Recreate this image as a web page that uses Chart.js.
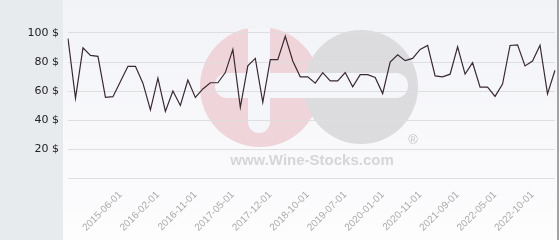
<!DOCTYPE html>
<html>
<head>
<meta charset="utf-8">
<script src="https://cdn.jsdelivr.net/npm/chart.js@4.4.0/dist/chart.umd.min.js"></script>
<style>
    html, body { margin: 0; padding: 0; background: #ffffff; overflow: hidden; }
    #priceChart { display: block; }
</style>
</head>
<body>
<canvas id="priceChart" width="560" height="240"></canvas>
<script>
// Price history (one value per auction date)
const prices = [
    96.2, 55, 89.8, 84.6, 83.9, 55.6, 56.1, 66.6, 77, 77,
    65.4, 47, 68.9, 45.9, 60, 50, 67.5, 55.6, 61.4, 65.7,
    65.7, 72.7, 88.7, 48.8, 77.3, 82.5, 52.2, 81.6, 81.6, 97.7,
    80.7, 69.8, 69.8, 65.4, 72.7, 67, 67, 72.7, 62.9, 71.3,
    71.3, 69.3, 58.2, 80, 85, 80.9, 82.5, 88.7, 91.4, 70.4,
    69.8, 71.6, 90.5, 71.6, 79.5, 62.7, 62.7, 56.3, 64.8, 91.4,
    91.8, 77.3, 80.7, 91.6, 58, 74.3
];

// Dates shown on the x axis; first one sits on point 7, then every 5th point
const tickDates = [
    "2015-06-01", "2016-02-01", "2016-11-01", "2017-05-01",
    "2017-12-01", "2018-10-01", "2019-07-01", "2020-01-01",
    "2020-11-01", "2021-09-01", "2022-05-01", "2022-10-01"
];
const firstTick = 7;
const tickEvery = 5;

// y axis ticks
const yMin = 0;
const yMax = 120;
const yStep = 20;

const labels = prices.map((p, i) => {
    const k = (i - firstTick) / tickEvery;
    return i >= firstTick && Number.isInteger(k) && tickDates[k] ? tickDates[k] : "";
});

// background panels + watermark, drawn before the grid
const backdrop = {
    id: "backdrop",
    beforeDraw(chart) {
        const ctx = chart.ctx;
        const w = chart.width, h = chart.height;
        ctx.save();
        ctx.fillStyle = "#e7ebee";
        ctx.fillRect(0, 0, 63, h);
        const g = ctx.createLinearGradient(0, 0, 0, h);
        g.addColorStop(0, "#f2f3f7");
        g.addColorStop(1, "#fdfdfe");
        ctx.fillStyle = g;
        ctx.fillRect(63, 0, 494, h);
        ctx.fillStyle = "#a3a3a3";
        ctx.fillRect(557, 0, 2, h);
        ctx.fillStyle = "#ffffff";
        ctx.fillRect(559, 0, w - 559, h);

        // watermark logo
        ctx.fillStyle = "#efd4d9";
        ctx.beginPath();
        ctx.arc(260, 87, 60, 0, Math.PI * 2);
        ctx.fill();
        ctx.fillStyle = "#dcdcde";
        ctx.beginPath();
        ctx.arc(361, 87, 57, 0, Math.PI * 2);
        ctx.fill();
        ctx.fillStyle = "#f5f6f9";
        ctx.save();
        ctx.beginPath();
        ctx.arc(260, 87, 60, 0, Math.PI * 2);
        ctx.clip();
        ctx.beginPath();
        ctx.roundRect(248, 10, 22, 123, 11);
        ctx.fill();
        ctx.restore();
        ctx.beginPath();
        ctx.roundRect(215, 73, 193, 25, 12);
        ctx.fill();
        ctx.fillStyle = "#c4c4c6";
        ctx.font = "13px 'Liberation Sans', Arial, sans-serif";
        ctx.textAlign = "center";
        ctx.textBaseline = "middle";
        ctx.fillText("\u00ae", 413, 140);
        ctx.fillStyle = "#d6d6d8";
        ctx.font = "bold 15px 'Liberation Sans', Arial, sans-serif";
        ctx.fillText("www.Wine-Stocks.com", 312, 161);
        ctx.restore();
    },
};

const ctx = document.getElementById("priceChart").getContext("2d");

new Chart(ctx, {
    type: "line",
    data: {
        labels: labels,
        datasets: [
            {
                data: prices,
                borderColor: "#3a2833",
                borderWidth: 1.2,
                pointRadius: 0,
                tension: 0,
                fill: false,
            },
        ],
    },
    options: {
        responsive: false,
        devicePixelRatio: 1,
        animation: false,
        layout: {
            padding: { top: 4, right: 5, bottom: 0, left: 0 },
        },
        plugins: {
            legend: { display: false },
            tooltip: { enabled: false },
        },
        scales: {
            x: {
                grid: { display: false },
                border: { display: false },
                afterFit: (scale) => {
                    scale.height = 62;
                    scale.paddingLeft = 0;
                    scale.paddingRight = 0;
                },
                ticks: {
                    autoSkip: false,
                    minRotation: 45,
                    maxRotation: 45,
                    padding: 3,
                    color: "#aaaaaa",
                    font: { family: "'Liberation Sans', Arial, sans-serif", size: 10 },
                },
            },
            y: {
                min: yMin,
                max: yMax,
                afterFit: (scale) => {
                    scale.width = 68;
                    scale.paddingTop = 0;
                    scale.paddingBottom = 0;
                },
                grid: { color: "#dedee1", drawTicks: false },
                border: { display: false },
                ticks: {
                    stepSize: yStep,
                    padding: 9,
                    color: "#222222",
                    font: { family: "'DejaVu Sans', sans-serif", size: 11 },
                    callback: (v) => (v === yMax ? null : v === 0 ? "" : v + " $"),
                },
            },
        },
    },
    plugins: [backdrop],
});
</script>
</body>
</html>
